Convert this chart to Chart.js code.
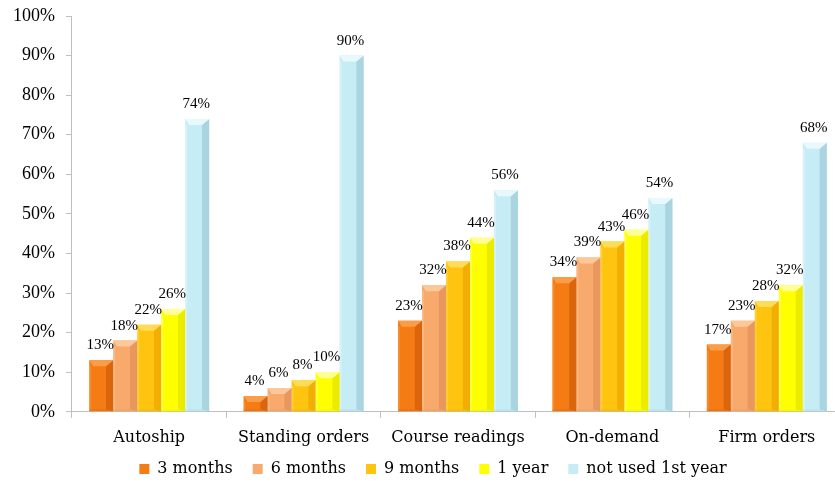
<!DOCTYPE html>
<html>
<head>
<meta charset="utf-8">
<script src="https://cdn.jsdelivr.net/npm/chart.js@4.4.1/dist/chart.umd.min.js"></script>
<style>
  html, body { margin: 0; padding: 0; background: #fff; overflow: hidden; }
  #view { width: 835px; height: 483px; overflow: hidden; }
  #wrap { position: relative; width: 846px; height: 483px; }
</style>
</head>
<body>
<div id="view"><div id="wrap"><canvas id="chart"></canvas></div></div>
<script>
const categories = ["Autoship", "Standing orders", "Course readings", "On-demand", "Firm orders"];
const seriesNames = ["3 months", "6 months", "9 months", "1 year", "not used 1st year"];
const threeMonths = [13, 4, 23, 34, 17];
const sixMonths = [18, 6, 32, 39, 23];
const nineMonths = [22, 8, 38, 43, 28];
const oneYear = [26, 10, 44, 46, 32];
const notUsed = [74, 90, 56, 54, 68];
const yTicks = [0, 10, 20, 30, 40, 50, 60, 70, 80, 90, 100];

// face / top bevel / right side shade for each series
const palette = [
  { base: "#F57C14", light: "#FA9D48", dark: "#DB650C" },
  { base: "#F8AA6C", light: "#FCC898", dark: "#E9975E" },
  { base: "#FFC410", light: "#FFDC58", dark: "#F2AE02" },
  { base: "#FFFF00", light: "#FFFF96", dark: "#EBEB00" },
  { base: "#C6ECF6", light: "#E8F9FD", dark: "#AAD4E0" },
];

const SERIF = "'Liberation Serif', 'DejaVu Serif', serif";
const WIDE_SERIF = "'DejaVu Serif', 'Liberation Serif', serif";

const seriesValues = [threeMonths, sixMonths, nineMonths, oneYear, notUsed];

const datasets = seriesNames.map((name, i) => ({
  label: name,
  data: seriesValues[i],
  backgroundColor: palette[i].base,
  borderWidth: 0,
  categoryPercentage: 0.777,
  barPercentage: 1.0,
}));

// bevel shading on each bar, then the value labels above
const bevelAndLabels = {
  id: "bevelAndLabels",
  afterLayout(chart) {
    // nudge the legend row: centred under the visible plot, closer to the axis labels
    chart.legend.left += 10;
    chart.legend.right += 10;
    chart.legend.top -= 16;
  },
  afterDatasetsDraw(chart) {
    const ctx = chart.ctx;
    chart.data.datasets.forEach((ds, di) => {
      const meta = chart.getDatasetMeta(di);
      const col = palette[di];
      meta.data.forEach((bar) => {
        const w = bar.width;
        const l = bar.x - w / 2;
        const r = bar.x + w / 2;
        const t = bar.y;
        const b = bar.base;
        const bev = Math.min(6, (b - t) / 2);
        const rs = w * 0.3;
        ctx.save();
        // right shaded side
        ctx.fillStyle = col.dark;
        ctx.beginPath();
        ctx.moveTo(r, t);
        ctx.lineTo(r, b);
        ctx.lineTo(r - rs, b - 2);
        ctx.lineTo(r - rs, t + bev);
        ctx.closePath();
        ctx.fill();
        // top bevel, pointed towards the middle
        ctx.fillStyle = col.light;
        ctx.beginPath();
        ctx.moveTo(l, t);
        ctx.lineTo(r, t);
        ctx.lineTo(r - rs, t + bev);
        ctx.lineTo(l + 4, t + bev);
        ctx.closePath();
        ctx.fill();
        // thin left edge highlight
        ctx.globalAlpha = 0.45;
        ctx.fillRect(l, t + bev, 2, b - t - bev);
        // bottom edge
        ctx.globalAlpha = 0.35;
        ctx.fillStyle = col.dark;
        ctx.fillRect(l, b - 2, w, 2);
        ctx.restore();
      });
    });
    ctx.save();
    ctx.fillStyle = "#000";
    ctx.font = "15px " + SERIF;
    ctx.textAlign = "center";
    ctx.textBaseline = "alphabetic";
    chart.data.datasets.forEach((ds, di) => {
      const meta = chart.getDatasetMeta(di);
      meta.data.forEach((bar, j) => {
        ctx.fillText(ds.data[j] + "%", bar.x - 1, bar.y - 11);
      });
    });
    ctx.restore();
  },
};

new Chart(document.getElementById("chart"), {
  type: "bar",
  data: { labels: categories, datasets: datasets },
  plugins: [bevelAndLabels],
  options: {
    responsive: true,
    maintainAspectRatio: false,
    animation: false,
    layout: { padding: { top: 0, right: 2, left: 2, bottom: 0 } },
    scales: {
      x: {
        grid: {
          offset: true,
          drawOnChartArea: false,
          drawTicks: true,
          tickLength: 6,
          color: "#BFBFBF",
        },
        border: { color: "#BFBFBF", width: 1 },
        ticks: {
          color: "#000",
          font: { family: WIDE_SERIF, size: 16 },
          padding: 10,
        },
      },
      y: {
        min: 0,
        max: 100,
        afterBuildTicks(scale) {
          scale.ticks = yTicks.map((v) => ({ value: v }));
        },
        afterFit(scale) {
          // room above the 100% tick
          scale.paddingTop = 16;
        },
        grid: {
          drawOnChartArea: false,
          drawTicks: true,
          tickLength: 6,
          color: "#BFBFBF",
        },
        border: { color: "#BFBFBF", width: 1 },
        ticks: {
          color: "#000",
          font: { family: SERIF, size: 18 },
          padding: 11,
          callback: (v) => v + "%",
        },
      },
    },
    plugins: {
      tooltip: { enabled: false },
      legend: {
        position: "bottom",
        maxHeight: 26,
        labels: {
          color: "#000",
          font: { family: WIDE_SERIF, size: 16 },
          boxWidth: 10,
          boxHeight: 10,
          padding: 20,
        },
      },
    },
  },
});
</script>
</body>
</html>
